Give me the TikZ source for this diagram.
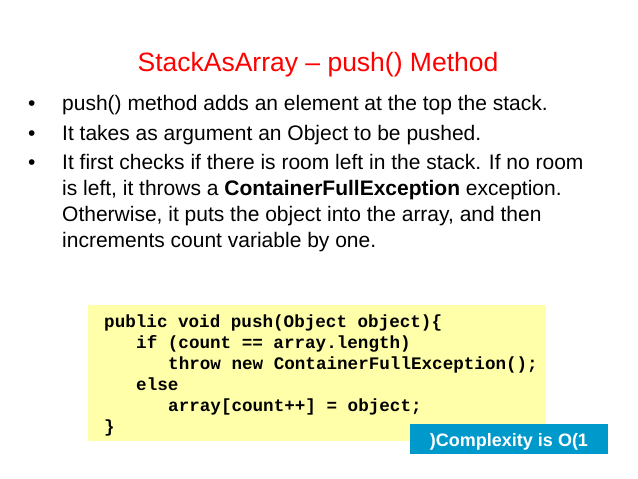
\documentclass[tikz,border=0pt]{standalone}
\usepackage{fontspec}
\setmainfont{Liberation Sans}
\newfontfamily\codefont{Liberation Mono}
\begin{document}
\begin{tikzpicture}[x=1pt,y=-1pt,
  txt/.style={anchor=base west,inner sep=0pt,font=\fontsize{21}{21}\selectfont},
  code/.style={anchor=base west,inner sep=0pt,font=\codefont\bfseries\fontsize{17.6}{17.6}\selectfont}]
\useasboundingbox[fill=white] (0,0) rectangle (638,479);
\node[anchor=base,inner sep=0pt,text=red,font=\fontsize{26.5}{26.5}\selectfont] (title) at (318,71) {StackAsArray – push() Method};
\foreach \y/\t [count=\i] in {110/{push() method adds an element at the top the stack.},
  140/{It takes as argument an Object to be pushed.},
  169/{It first checks if there is room left in the stack. If no room}}
  {\node[txt] (b\i) at (28,\y) {•}; \node[txt] (t\i) at (62,\y) {\t};}
\node[txt] (l4) at (62,195) {is left, it throws a \textbf{ContainerFullException} exception.};
\node[txt] (l5) at (62,221) {Otherwise, it puts the object into the array, and then};
\node[txt] (l6) at (62,247) {increments count variable by one.};
\fill[fill={rgb,255:red,255;green,255;blue,170}] (88,305) rectangle (546,441);
\node[code] (c1) at (104,327) {public void push(Object object)\{};
\node[code] (c2) at (136,348) {if (count == array.length)};
\node[code] (c3) at (168,369) {throw new ContainerFullException();};
\node[code] (c4) at (136,390) {else};
\node[code] (c5) at (168,411) {array[count++] = object;};
\node[code] (c6) at (104,432) {\}};
\fill[fill={rgb,255:red,0;green,153;blue,204}] (410,424) rectangle (608,454);
\node[anchor=base,inner sep=0pt,text=white,font=\bfseries\fontsize{18}{18}\selectfont] (cx) at (509,446) {)Complexity is O(1};
\end{tikzpicture}
\end{document}
